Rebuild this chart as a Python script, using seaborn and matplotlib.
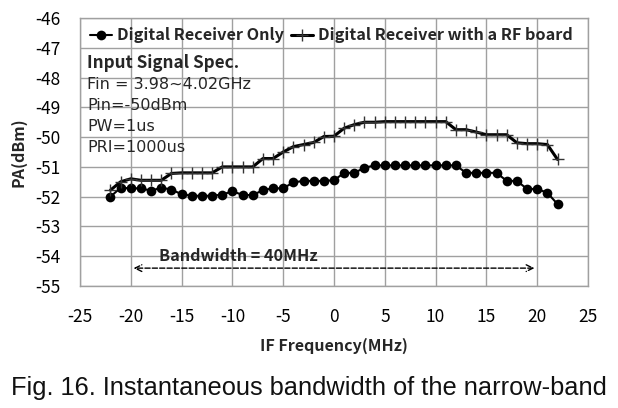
import numpy as np
import pandas as pd
import matplotlib
matplotlib.use('Agg')
import matplotlib.pyplot as plt
import seaborn as sns

# 데이터
freq = list(range(-22, 23))
dr_only = [-52.0, -51.7, -51.72, -51.72, -51.8, -51.7, -51.76, -51.92, -51.97, -51.97,
           -51.97, -51.93, -51.82, -51.94, -51.95, -51.78, -51.72, -51.72, -51.52, -51.47,
           -51.47, -51.47, -51.45, -51.2, -51.2, -51.03, -50.95, -50.95, -50.95, -50.95,
           -50.95, -50.95, -50.95, -50.95, -50.95, -51.2, -51.2, -51.2, -51.2, -51.47,
           -51.47, -51.74, -51.74, -51.87, -52.25]
dr_rf = [-51.78, -51.5, -51.4, -51.45, -51.45, -51.45, -51.22, -51.2, -51.2, -51.2,
         -51.2, -51.0, -51.0, -51.0, -51.0, -50.72, -50.72, -50.5, -50.32, -50.25,
         -50.18, -49.98, -49.97, -49.7, -49.58, -49.5, -49.5, -49.48, -49.48, -49.48,
         -49.48, -49.48, -49.48, -49.48, -49.75, -49.75, -49.83, -49.92, -49.92, -49.92,
         -50.19, -50.22, -50.22, -50.25, -50.75]
x_ticks = list(range(-25, 26, 5))
y_ticks = list(range(-55, -45))
spec_lines = ['Fin = 3.98~4.02GHz', 'Pin=-50dBm', 'PW=1us', 'PRI=1000us']

df = pd.DataFrame({'freq': freq, 'only': dr_only, 'rf': dr_rf})

sns.set_style('whitegrid')
plt.rcParams['font.family'] = ['Noto Sans CJK KR', 'DejaVu Sans']

fig = plt.figure(figsize=(6.18, 4.08), dpi=100)
ax = fig.add_axes([80 / 618, 1 - 286 / 408, 508 / 618, 268 / 408])

sns.lineplot(data=df, x='freq', y='only', ax=ax, color='black', linewidth=1.5,
             marker='o', markersize=7, markeredgewidth=0, label='Digital Receiver Only')
sns.lineplot(data=df, x='freq', y='rf', ax=ax, color='black', linewidth=2.2,
             marker='+', markersize=8, markeredgewidth=1.0, markeredgecolor='#333333',
             label='Digital Receiver with a RF board')

ax.set_xlim(-25, 25)
ax.set_ylim(-55, -46)
ax.set_xticks(x_ticks)
ax.set_yticks(y_ticks)
ax.set_xticklabels([str(v) for v in x_ticks])
ax.set_yticklabels([str(v) for v in y_ticks])
ax.tick_params(axis='both', length=0, labelsize=12.5, colors='black')
ax.tick_params(axis='x', pad=16)
ax.tick_params(axis='y', pad=14)
ax.grid(True, color='#a0a0a0', linewidth=1.0)
for s in ax.spines.values():
    s.set_color('#a0a0a0')
    s.set_linewidth(1.0)

ax.set_xlabel('IF Frequency(MHz)', fontsize=11.5, fontweight='bold', labelpad=8)
ax.set_ylabel('PA(dBm)', fontsize=11.5, fontweight='bold', labelpad=6)

leg = ax.legend(loc='upper left', bbox_to_anchor=(-0.01, 1.02), ncol=2, frameon=False,
                handlelength=1.4, handletextpad=0.3, columnspacing=0.4,
                prop={'weight': 'bold', 'size': 11.7})

ax.text(-24.3, -47.5, 'Input Signal Spec.', fontsize=12.3, fontweight='bold',
        va='center', ha='left')
for i, t in enumerate(spec_lines):
    ax.text(-24.3, -48.24 - i * 0.7, t, fontsize=11.5, va='center', ha='left',
            family=['DejaVu Sans'])

ax.annotate('', xy=(-20, -54.4), xytext=(20, -54.4),
            arrowprops=dict(arrowstyle='<->', linestyle='--', color='black', lw=1.0,
                            mutation_scale=12))
ax.text(-9.4, -54.0, 'Bandwidth = 40MHz', fontsize=11.7, fontweight='bold',
        va='center', ha='center')

fig.text(0.5, 1 - 388 / 408, 'Fig. 16. Instantaneous bandwidth of the narrow-band',
         fontsize=18.3, ha='center', va='center', color='#111111',
         family=['Liberation Sans', 'DejaVu Sans'])

fig.savefig('out.png', dpi=100)
